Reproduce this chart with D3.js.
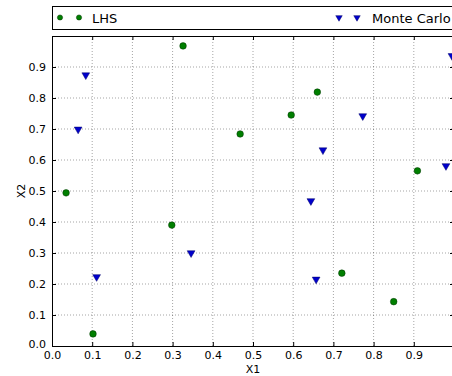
<!DOCTYPE html>
<html>
<head>
<meta charset="utf-8">
<script src="https://cdn.jsdelivr.net/npm/d3@7"></script>
<style>
  body { margin: 0; background: #fff; }
  svg { display: block; font-family: "DejaVu Sans", sans-serif; }
</style>
</head>
<body>
<svg width="452" height="376"></svg>
<script>
// LHS samples
var lhsX = [0.035, 0.102, 0.298, 0.326, 0.468, 0.595, 0.660, 0.721, 0.850, 0.909];
var lhsY = [0.494, 0.039, 0.390, 0.968, 0.684, 0.745, 0.819, 0.235, 0.143, 0.565];
// Monte Carlo samples
var mcX = [0.065, 0.084, 0.111, 0.346, 0.644, 0.657, 0.674, 0.773, 0.980, 0.995];
var mcY = [0.699, 0.874, 0.223, 0.300, 0.468, 0.215, 0.632, 0.742, 0.581, 0.936];

var ticks = [0.0, 0.1, 0.2, 0.3, 0.4, 0.5, 0.6, 0.7, 0.8, 0.9];

var margin = {top: 36, left: 52};
var width = 402, height = 310;

var svg = d3.select("svg");
var g = svg.append("g")
    .attr("transform", "translate(" + margin.left + "," + margin.top + ")");

var x = d3.scaleLinear().domain([0, 1]).range([0, width]);
var y = d3.scaleLinear().domain([0, 1]).range([height, 0]);

// grid
g.selectAll(".vgrid").data(ticks.slice(1)).enter().append("line")
    .attr("x1", function(d) { return x(d); }).attr("x2", function(d) { return x(d); })
    .attr("y1", 0).attr("y2", height)
    .attr("stroke", "#000").attr("stroke-opacity", 0.45)
    .attr("stroke-width", 0.8).attr("stroke-dasharray", "1,2");
g.selectAll(".hgrid").data(ticks.slice(1)).enter().append("line")
    .attr("x1", 0).attr("x2", width)
    .attr("y1", function(d) { return y(d); }).attr("y2", function(d) { return y(d); })
    .attr("stroke", "#000").attr("stroke-opacity", 0.45)
    .attr("stroke-width", 0.8).attr("stroke-dasharray", "1,2");

// axes (ticks pointing inward)
var fmt = d3.format(".1f");
var xAxis = g.append("g").attr("transform", "translate(0," + height + ")")
    .call(d3.axisBottom(x).tickValues(ticks).tickFormat(fmt).tickSizeInner(-4).tickSizeOuter(0).tickPadding(5));
var yAxis = g.append("g")
    .call(d3.axisLeft(y).tickValues(ticks).tickFormat(fmt).tickSizeInner(-4).tickSizeOuter(0).tickPadding(6));
g.append("g").call(d3.axisTop(x).tickValues(ticks).tickFormat("").tickSizeInner(-4).tickSizeOuter(0));
g.append("g").attr("transform", "translate(" + width + ",0)")
    .call(d3.axisRight(y).tickValues(ticks).tickFormat("").tickSizeInner(-4).tickSizeOuter(0));
g.selectAll(".domain").attr("stroke", "#000").attr("stroke-width", 1);
g.selectAll(".tick line").attr("stroke", "#000");
g.selectAll(".tick text").attr("font-size", 11).attr("fill", "#000")
    .attr("font-family", "DejaVu Sans, sans-serif");
yAxis.select(".tick:first-of-type text").attr("dy", "0.1em");

// axis labels
svg.append("text").attr("x", margin.left + x(0.5)).attr("y", 373)
    .attr("text-anchor", "middle").attr("font-size", 11).text("X1");
svg.append("text").attr("transform", "translate(25," + (margin.top + y(0.5)) + ") rotate(-90)")
    .attr("text-anchor", "middle").attr("font-size", 11).text("X2");

// points
var tri = d3.symbol().type(d3.symbolTriangle).size(26);
g.selectAll(".lhs").data(d3.range(lhsX.length)).enter().append("circle")
    .attr("cx", function(i) { return x(lhsX[i]); })
    .attr("cy", function(i) { return y(lhsY[i]); })
    .attr("r", 3.3).attr("fill", "#007f00").attr("stroke", "#003300").attr("stroke-width", 0.5);
g.selectAll(".mc").data(d3.range(mcX.length)).enter().append("path")
    .attr("d", tri)
    .attr("transform", function(i) { return "translate(" + x(mcX[i]) + "," + y(mcY[i]) + ") rotate(180)"; })
    .attr("fill", "#0000cc").attr("stroke", "#000066").attr("stroke-width", 0.5);

// legend
var leg = svg.append("g");
leg.append("rect").attr("x", 52.5).attr("y", 6.5).attr("width", 420).attr("height", 23)
    .attr("fill", "#fff").attr("stroke", "#000").attr("stroke-width", 1);
[60, 79].forEach(function(cx) {
  leg.append("circle").attr("cx", cx).attr("cy", 17.5).attr("r", 2.6)
      .attr("fill", "#007f00").attr("stroke", "#003300").attr("stroke-width", 0.5);
});
leg.append("text").attr("x", 92).attr("y", 22.5).attr("font-size", 13).text("LHS");
[339, 357].forEach(function(cx) {
  leg.append("path").attr("d", d3.symbol().type(d3.symbolTriangle).size(18))
      .attr("transform", "translate(" + cx + ",17.5) rotate(180)")
      .attr("fill", "#0000cc").attr("stroke", "#000066").attr("stroke-width", 0.5);
});
leg.append("text").attr("x", 372).attr("y", 22.5).attr("font-size", 13).text("Monte Carlo");
</script>
</body>
</html>
